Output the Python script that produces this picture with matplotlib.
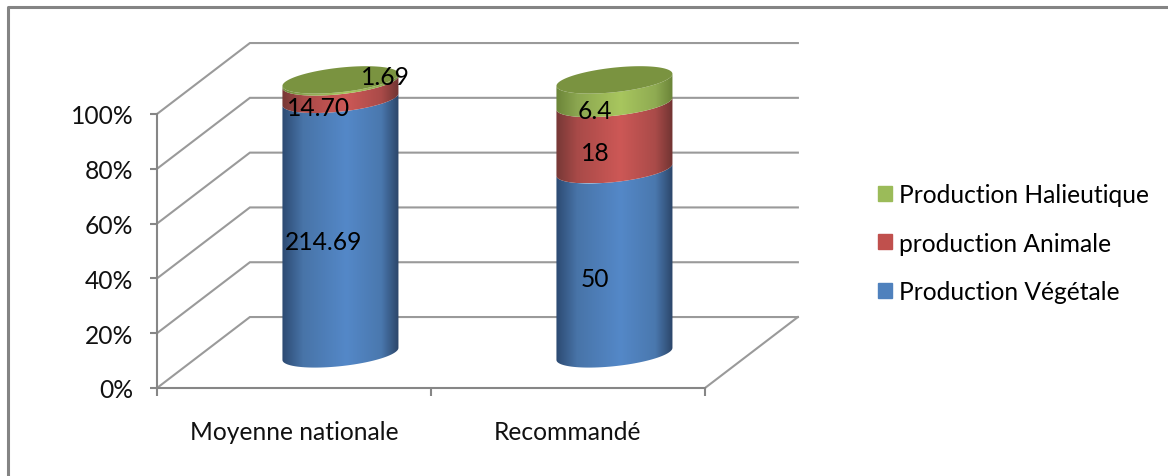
import numpy as np
import matplotlib
matplotlib.use("Agg")
import matplotlib.pyplot as plt
from matplotlib.colors import LinearSegmentedColormap
from matplotlib.lines import Line2D
from matplotlib.patches import Patch, Polygon

# --- donnees ---
categories = ["Moyenne nationale", "Recommandé"]
series_names = ["Production Végétale", "production Animale", "Production Halieutique"]
vegetale = [214.69, 50]
animale = [14.70, 18]
halieutique = [1.69, 6.4]
vegetale_labels = ["214.69", "50"]
animale_labels = ["14.70", "18"]
halieutique_labels = ["1.69", "6.4"]
y_ticks = [0, 20, 40, 60, 80, 100]

# --- style ---
plt.rcParams["font.family"] = ["Lato", "DejaVu Sans"]
FONT_SIZE = 17.7
GRID = "#9a9a9a"
AXIS = "#868686"
# sombre, moyen, clair, moyen, sombre
SHADES = {
    "blue": ["#2c4a72", "#4874a8", "#5488c8", "#4a78ae", "#2b4568"],
    "red": ["#763836", "#a84a48", "#cd5856", "#aa4b49", "#703432"],
    "green": ["#6b8438", "#8ba650", "#a8c65e", "#8fab52", "#6a8338"],
}
LEGEND_COLORS = ["#4f81bd", "#c0504d", "#9bbb59"]
TOP_COLOR = "#7a9340"
FRACS = [0, 0.18, 0.55, 0.85, 1]

# --- profondeur 3D (unites des axes) ---
DEPTH_X = 0.339
DEPTH_Y = 25.9
CYL_LIFT = DEPTH_Y / 2 - 0.5
RADIUS_X = 0.2117
RADIUS_Y = 4.49
TILT = 2.2


def ellipse_arc(cx, cy, t0, t1, n=60):
    t = np.linspace(t0, t1, n)
    xs = cx + RADIUS_X * np.cos(t)
    ys = cy + RADIUS_Y * np.sin(t) + TILT * np.cos(t)
    return np.column_stack([xs, ys])


def draw_segment(ax, cx, v0, v1, shades):
    # face avant du cylindre entre v0 et v1
    lower = ellipse_arc(cx, v0 + CYL_LIFT, np.pi, 2 * np.pi)
    upper = ellipse_arc(cx, v1 + CYL_LIFT, 2 * np.pi, np.pi)
    pts = np.vstack([lower, upper])
    outline = Polygon(pts, closed=True, transform=ax.transData,
                      facecolor="none", edgecolor="none", clip_on=False)
    ax.add_patch(outline)
    cmap = LinearSegmentedColormap.from_list("cyl", list(zip(FRACS, shades)))
    gradient = np.linspace(0, 1, 256).reshape(1, -1)
    im = ax.imshow(gradient, cmap=cmap, aspect="auto", zorder=3,
                   extent=[cx - RADIUS_X, cx + RADIUS_X, pts[:, 1].min(), pts[:, 1].max()])
    # sinon l'image reste coupee au cadre des axes
    im.set_clip_box(fig.bbox)
    im.set_clip_path(outline)


fig = plt.figure(figsize=(11.68, 4.77), dpi=100)
ax = fig.add_axes([157 / 1168, (477 - 389) / 477, 548 / 1168, 274 / 477])

# --- cadre ---
fig.add_artist(Line2D([8 / 1168, 8 / 1168, 1], [0, 1 - 8 / 477, 1 - 8 / 477],
                      transform=fig.transFigure, color="#848484", lw=2.2))

# --- grille : paroi gauche + fond ---
for v in y_ticks:
    ax.plot([0, DEPTH_X, 2 + DEPTH_X], [v, v + DEPTH_Y, v + DEPTH_Y],
            color=GRID, lw=1.5, clip_on=False, zorder=1, solid_joinstyle="miter")
ax.plot([2, 2 + DEPTH_X], [0, DEPTH_Y], color=GRID, lw=1.5, clip_on=False, zorder=1)

# --- cylindres empiles en pourcentage ---
for i in range(len(categories)):
    total = vegetale[i] + animale[i] + halieutique[i]
    cx = i + 0.5 + DEPTH_X / 2
    p1 = vegetale[i] / total * 100
    p2 = (vegetale[i] + animale[i]) / total * 100
    draw_segment(ax, cx, 0, p1, SHADES["blue"])
    draw_segment(ax, cx, p1, p2, SHADES["red"])
    draw_segment(ax, cx, p2, 100, SHADES["green"])
    top = ellipse_arc(cx, 100 + CYL_LIFT, 0, 2 * np.pi, 120)
    ax.add_patch(Polygon(top, closed=True, facecolor=TOP_COLOR, edgecolor="none",
                         zorder=4, clip_on=False))

    # etiquettes : decalage a la main par rapport au milieu de chaque tranche
    mids = [p1 / 2, (p1 + p2) / 2, (p2 + 100) / 2]
    texts = [vegetale_labels[i], animale_labels[i], halieutique_labels[i]]
    offsets = [[(-0.06, 7.0), (-0.08, 6.2), (0.165, 14.0)],
               [(-0.07, 6.3), (-0.07, 6.7), (-0.07, 5.5)]][i]
    for mid, txt, (ox, oy) in zip(mids, texts, offsets):
        ax.text(cx + ox, mid + oy, txt, ha="center", va="center",
                fontsize=FONT_SIZE, color="black", zorder=6, clip_on=False)

# --- axes ---
ax.set_xlim(0, 2)
ax.set_ylim(0, 100)
ax.patch.set_visible(False)
for side in ["top", "right"]:
    ax.spines[side].set_visible(False)
for side in ["left", "bottom"]:
    ax.spines[side].set_color(AXIS)
    ax.spines[side].set_linewidth(1.5)
    ax.spines[side].set_zorder(2)
ax.set_yticks(y_ticks)
ax.set_yticklabels([f"{v}%" for v in y_ticks], fontsize=FONT_SIZE, color="#111111")
ax.tick_params(axis="y", length=5, width=1.5, color=AXIS, pad=12)
ax.set_xticks([0, 1, 2])
ax.set_xticklabels([])
ax.tick_params(axis="x", which="major", length=5.5, width=1.5, color=AXIS)
ax.set_xticks([0.5, 1.5], minor=True)
ax.set_xticklabels(categories, minor=True, fontsize=FONT_SIZE, color="#111111")
ax.tick_params(axis="x", which="minor", length=0, pad=23)

# --- legende ---
handles = [Patch(color=c, label=n) for c, n in zip(LEGEND_COLORS, series_names)]
fig.legend(handles=handles[::-1], loc="center left", bbox_to_anchor=(878 / 1168, 1 - 244 / 477),
           frameon=False, fontsize=FONT_SIZE, handlelength=0.57, handleheight=0.57,
           handletextpad=0.3, labelspacing=1.04, borderpad=0, borderaxespad=0)

fig.savefig("out.png", dpi=100)
